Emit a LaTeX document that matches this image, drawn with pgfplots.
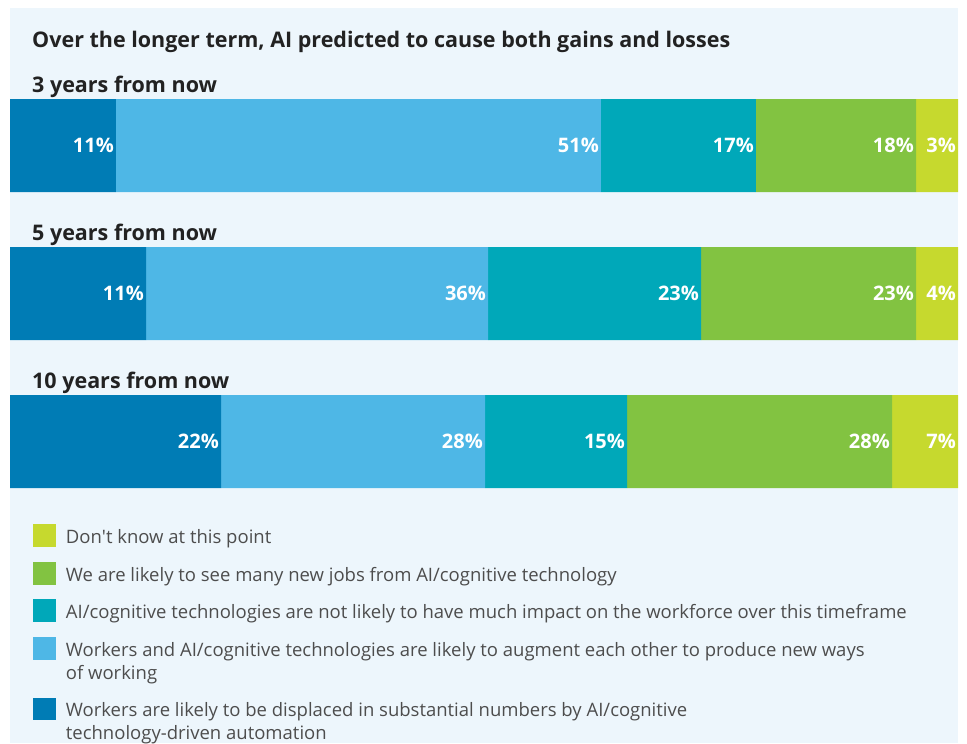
\documentclass[border=0pt]{standalone}
\usepackage{pgfplots}
\pgfplotsset{compat=1.18}
\usepackage{pgfplotstable}
\usepackage{fontspec}
\setmainfont{Open Sans}
\definecolor{bgc}{HTML}{EDF6FC}
\definecolor{cA}{HTML}{007CB5}
\definecolor{cB}{HTML}{4EB7E6}
\definecolor{cC}{HTML}{00A8B9}
\definecolor{cD}{HTML}{82C341}
\definecolor{cE}{HTML}{C6D92E}
\definecolor{txt}{HTML}{222222}
\definecolor{legtxt}{HTML}{4D4D4D}

% segment widths as drawn (share of bar)
\pgfplotstableread{
row a b c d e
0 11.18 51.16 16.35 16.88 4.43
1 14.35 36.08 22.47 22.68 4.43
2 22.26 27.85 14.98 27.95 6.96
}\widths
% right end of each segment and the printed label
\pgfplotstableread{
row ea eb ec ed ee la lb lc ld le
0 11.18 62.34 78.69 95.57 100 11 51 17 18 3
1 14.35 50.43 72.90 95.58 100 11 36 23 23 4
2 22.26 50.11 65.09 93.04 100 22 28 15 28 7
}\labels

\begin{document}
\begin{tikzpicture}[x=1pt,y=1pt]
\fill[white] (0,0) rectangle (967,-743);
\fill[bgc] (10,-8) rectangle (958,-743);
\node[anchor=base west, inner sep=0pt, text=txt, font=\fontsize{21.5}{25}\selectfont\bfseries] at (32,-47.7) {Over the longer term, AI predicted to cause both gains and losses};
\begin{axis}[
  at={(10pt,-71.5pt)}, anchor=north west,
  scale only axis, width=948pt, height=444pt,
  xmin=0, xmax=100, ymin=-0.5, ymax=2.5, y dir=reverse,
  hide axis, clip=false,
  xbar stacked, bar width=93pt,
  legend image code/.code={\fill[#1,draw=none] (0pt,-3.4pt) rectangle (23pt,19.3pt);},
  legend cell align=left,
  reverse legend,
  legend style={at={(axis cs:0,2.5)}, anchor=north west, xshift=23pt, yshift=-8.5pt,
    draw=none, fill=none, inner sep=0pt, row sep=14.8pt, column sep=7.7pt,
    font=\fontsize{18.5}{23}\selectfont, text=legtxt,
    cells={anchor=base west, align=left, inner sep=0pt}},
]
\addplot[fill=cA, draw=none, legend image code/.code={\fill[cA] (0pt,19.6pt) rectangle (23pt,42.3pt);}] table[x=a, y=row] {\widths};
\addlegendentry{Workers are likely to be displaced in substantial numbers by AI/cognitive\strut\\technology-driven automation\strut}
\addplot[fill=cB, draw=none, legend image code/.code={\fill[cB] (0pt,19.6pt) rectangle (23pt,42.3pt);}] table[x=b, y=row] {\widths};
\addlegendentry{Workers and AI/cognitive technologies are likely to augment each other to produce new ways\strut\\of working\strut}
\addplot[fill=cC, draw=none] table[x=c, y=row] {\widths};
\addlegendentry{AI/cognitive technologies are not likely to have much impact on the workforce over this timeframe\strut}
\addplot[fill=cD, draw=none] table[x=d, y=row] {\widths};
\addlegendentry{We are likely to see many new jobs from AI/cognitive technology\strut}
\addplot[fill=cE, draw=none] table[x=e, y=row] {\widths};
\addlegendentry{Don\textquotesingle t know at this point\strut}

\node[anchor=base west, inner sep=0pt, xshift=22pt, text=txt, font=\fontsize{21.5}{25}\selectfont\bfseries] at (axis cs:0,-0.3615) {3 years from now};
\node[anchor=base west, inner sep=0pt, xshift=22pt, text=txt, font=\fontsize{21.5}{25}\selectfont\bfseries] at (axis cs:0,0.6385) {5 years from now};
\node[anchor=base west, inner sep=0pt, xshift=22pt, text=txt, font=\fontsize{21.5}{25}\selectfont\bfseries] at (axis cs:0,1.6385) {10 years from now};
\end{axis}
% value labels at the right end of each segment
\begin{axis}[
  at={(10pt,-71.5pt)}, anchor=north west,
  scale only axis, width=948pt, height=444pt,
  xmin=0, xmax=100, ymin=-0.5, ymax=2.5, y dir=reverse,
  hide axis, clip=false,
  point meta=explicit symbolic,
  nodes near coords={\pgfplotspointmeta\%},
  every node near coord/.append style={anchor=east, inner sep=0pt, xshift=-2pt, yshift=0pt, text=white, font=\fontsize{20}{24}\selectfont\bfseries},
]
\addplot[draw=none, mark=none] table[x=ea, y=row, meta=la] {\labels};
\addplot[draw=none, mark=none] table[x=eb, y=row, meta=lb] {\labels};
\addplot[draw=none, mark=none] table[x=ec, y=row, meta=lc] {\labels};
\addplot[draw=none, mark=none] table[x=ed, y=row, meta=ld] {\labels};
\addplot[draw=none, mark=none] table[x=ee, y=row, meta=le] {\labels};
\end{axis}
\end{tikzpicture}
\end{document}
